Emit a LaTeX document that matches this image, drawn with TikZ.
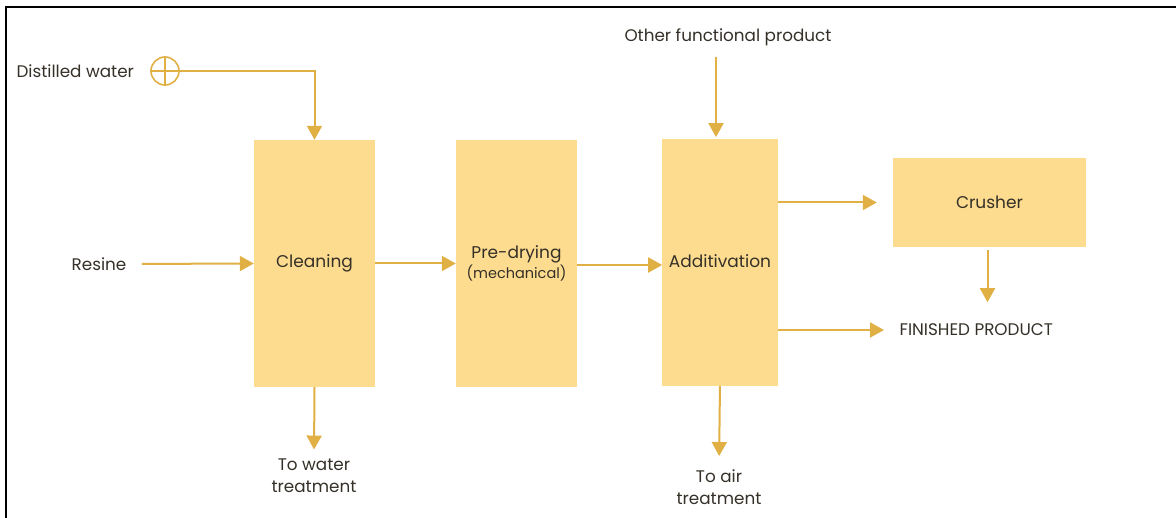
\documentclass[tikz,border=0pt]{standalone}
\usepackage{fontspec}
\setmainfont{Poppins}
\usetikzlibrary{arrows.meta,positioning}
\definecolor{boxfill}{HTML}{FDDC8F}
\definecolor{flow}{HTML}{E1B045}
\definecolor{ink}{HTML}{353028}
\tikzset{
  unit/.style={fill=boxfill, draw=none, minimum width=121pt, minimum height=247pt,
    align=center, text=ink, font=\fontsize{17}{21}\selectfont},
  flowarrow/.style={draw=flow, line width=2pt, -{Triangle[width=15pt,length=14pt]}},
  tag/.style={text=ink, align=center, font=\fontsize{16.8}{22}\selectfont}
}
\begin{document}
\begin{tikzpicture}[x=1pt,y=-1pt]
\useasboundingbox (0,0) rectangle (1176,518);
\draw[line width=2pt] (6,518) -- (6,7) -- (1176,7);
% process units
\node[unit] (clean) at (314.5,263.5) {\raisebox{-2pt}{Cleaning}};
\node[unit] (predry) at (516.5,263.5) {\raisebox{3pt}{Pre-drying}\\[-4pt]{\fontsize{14.5}{17}\selectfont(mechanical)}};
\node[unit, minimum width=116pt] (addit) at (720,262.5) {\raisebox{3pt}{Additivation}};
\node[unit, minimum width=193pt, minimum height=89pt] (crush) at (989.5,202.5) {Crusher};
% inputs and outputs
\node[tag, anchor=west] (dw) at (13,71) {Distilled water};
\node[draw=flow, circle, line width=1.6pt, minimum size=28pt, inner sep=0pt] (mix) at (165,71) {};
\draw[draw=flow, line width=1.6pt] (mix.north) -- (mix.south) (mix.west) -- (mix.east);
\node[tag] (resine) at (99,264) {Resine};
\node[tag] (other) at (728,37) {Other functional product};
\node[tag, anchor=west] (fin) at (896,330) {FINISHED PRODUCT};
\node[tag] (water) at (314,476) {To water\\treatment};
\node[tag] (air) at (719,487) {To air\\treatment};
% flows
\draw[flowarrow] (mix.east) -| (clean.north);
\draw[flowarrow, shorten <=12pt] (resine.east) -- (clean.west);
\draw[flowarrow] (clean.east) -- (predry.west);
\draw[flowarrow] (predry.east) ++(0,1.5) -- ++(85,0);
\draw[flowarrow, shorten >=16pt] (addit.east |- crush.west) -- (crush.west);
\draw[flowarrow, shorten >=12pt] (addit.east |- fin.west) -- (fin.west);
\draw[flowarrow, shorten >=10pt] (crush.south) ++(-2,3) -- ++(0,62);
\draw[flowarrow] (addit.north |- other.south) ++(-4,8) -- ++(0,80);
\draw[flowarrow, shorten >=6pt] (clean.south) -- (water.north);
\draw[flowarrow, shorten >=10pt] (addit.south) -- (air.north);
\end{tikzpicture}
\end{document}
